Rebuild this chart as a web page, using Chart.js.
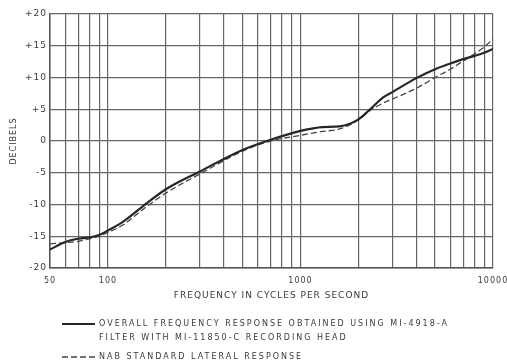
<!DOCTYPE html>
<html>
<head>
<meta charset="utf-8">
<script src="https://cdn.jsdelivr.net/npm/chart.js@4"></script>
<style>
  html, body { margin: 0; padding: 0; background: #fff; }
</style>
</head>
<body>
<canvas id="responseChart" width="507" height="363"></canvas>
<script>
// Values
const freqs = [50, 60, 70, 80, 90, 100, 120, 150, 200, 300, 500, 700, 1000, 1300, 1600, 2000, 2300, 2700, 3000, 4000, 5000, 6000, 7000, 8000, 9000, 10000];
const overallDb = [-17.1, -15.9, -15.4, -15.2, -14.8, -14.1, -12.7, -10.4, -7.6, -4.8, -1.4, 0.2, 1.6, 2.2, 2.3, 3.4, 5.0, 6.9, 7.7, 9.9, 11.3, 12.2, 12.9, 13.4, 13.9, 14.5];
const nabDb = [-16.2, -16.0, -15.8, -15.4, -15.0, -14.4, -13.2, -10.9, -8.2, -5.2, -1.6, 0.0, 0.9, 1.5, 1.9, 3.3, 4.8, 6.0, 6.6, 8.3, 10.0, 11.3, 12.6, 13.7, 14.8, 16.1];

// Grid lines and labelled ticks
const gridFreqs = [50, 60, 70, 80, 90, 100, 200, 300, 400, 500, 600, 700, 800, 900, 1000, 2000, 3000, 4000, 5000, 6000, 7000, 8000, 9000, 10000];
const labelFreqs = [50, 100, 1000, 10000];

const overallLabel = ["OVERALL FREQUENCY RESPONSE OBTAINED USING MI-4918-A", "FILTER WITH MI-11850-C RECORDING HEAD"];
const nabLabel = ["NAB STANDARD LATERAL RESPONSE"];

const ink = "#3a3a3a";
const gridInk = "#666";
const letterFont = "DejaVu Sans";

function toPoints(values) {
    return freqs.map((f, i) => ({ x: f, y: values[i] }));
}

// Wide lettering like the stencil text of the original
const spacingPlugin = {
    id: "spacing",
    beforeUpdate(chart) { chart.ctx.letterSpacing = "1px"; },
    beforeDraw(chart) { chart.ctx.letterSpacing = "1px"; }
};

// Legend under the axis title, one block per dataset
const stackedLegend = {
    id: "stackedLegend",
    afterDraw(chart) {
        const ctx = chart.ctx;
        const rows = [
            { ds: chart.data.datasets[0], lines: overallLabel, y: 324 },
            { ds: chart.data.datasets[1], lines: nabLabel, y: 357 }
        ];
        ctx.save();
        ctx.letterSpacing = "2px";
        ctx.font = "8px '" + letterFont + "'";
        ctx.textBaseline = "middle";
        ctx.fillStyle = ink;
        rows.forEach(row => {
            ctx.strokeStyle = row.ds.borderColor;
            ctx.lineWidth = row.ds.borderWidth;
            ctx.setLineDash(row.ds.borderDash || []);
            ctx.beginPath();
            ctx.moveTo(62, row.y);
            ctx.lineTo(95, row.y);
            ctx.stroke();
            row.lines.forEach((line, i) => {
                ctx.fillText(line, 99, row.y + i * 14);
            });
        });
        ctx.restore();
    }
};

const chart = new Chart(document.getElementById("responseChart").getContext("2d"), {
    type: "line",
    data: {
        datasets: [
            {
                label: overallLabel.join(" "),
                data: toPoints(overallDb),
                borderColor: "#262626",
                borderWidth: 2.2,
                pointRadius: 0,
                tension: 0.4,
                cubicInterpolationMode: "monotone",
                fill: false
            },
            {
                label: nabLabel[0],
                data: toPoints(nabDb),
                borderColor: "#444",
                borderWidth: 1.3,
                borderDash: [6, 3],
                pointRadius: 0,
                tension: 0.4,
                cubicInterpolationMode: "monotone",
                fill: false
            }
        ]
    },
    options: {
        responsive: false,
        animation: false,
        devicePixelRatio: 1,
        layout: { padding: { left: 0, right: 14, top: 14, bottom: 0 } },
        plugins: {
            legend: { display: false },
            tooltip: { enabled: false }
        },
        scales: {
            x: {
                type: "logarithmic",
                min: 50,
                max: 10000,
                afterBuildTicks: scale => {
                    scale.ticks = gridFreqs.map(v => ({ value: v }));
                },
                afterFit: scale => {
                    scale.height = 95;
                    scale.paddingLeft = 0;
                    scale.paddingRight = 0;
                },
                grid: { color: gridInk, lineWidth: 1.2, drawTicks: false },
                border: { color: "#555", width: 1.5 },
                ticks: {
                    autoSkip: false,
                    maxRotation: 0,
                    padding: 8,
                    color: ink,
                    font: { family: letterFont, size: 8 },
                    callback: v => labelFreqs.includes(v) ? String(v) : ""
                },
                title: {
                    display: true,
                    text: "FREQUENCY IN CYCLES PER SECOND",
                    color: ink,
                    font: { family: letterFont, size: 9 },
                    padding: { top: 4, bottom: 62 }
                }
            },
            y: {
                min: -20,
                max: 20,
                afterFit: scale => { scale.width = 50; },
                grid: { color: gridInk, lineWidth: 1.2, drawTicks: false },
                border: { color: "#555", width: 1.5 },
                ticks: {
                    stepSize: 5,
                    padding: 3,
                    color: ink,
                    font: { family: letterFont, size: 9 },
                    callback: v => (v > 0 ? "+" : "") + v
                },
                title: {
                    display: true,
                    text: "DECIBELS",
                    color: ink,
                    font: { family: letterFont, size: 8 },
                    padding: { top: 9, bottom: 0 }
                }
            }
        }
    },
    plugins: [spacingPlugin, stackedLegend]
});
</script>
</body>
</html>
